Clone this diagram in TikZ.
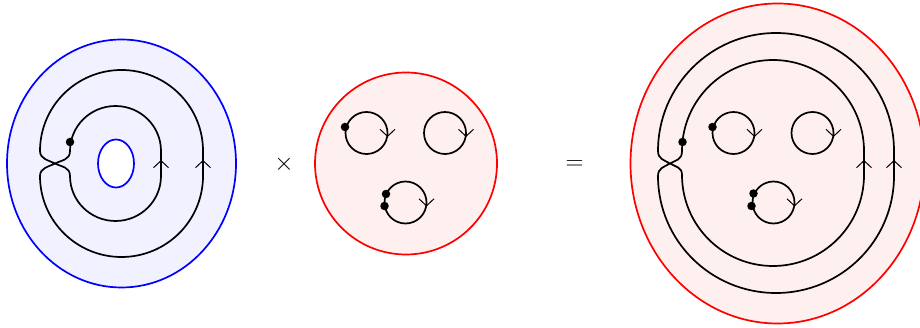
\documentclass[tikz,border=0pt]{standalone}
\usepackage{amsmath,amssymb}
\usepackage{xcolor}
\usetikzlibrary{arrows.meta}
\definecolor{softblue}{RGB}{241,241,255}
\definecolor{softred}{RGB}{254,240,238}
\tikzset{
  strand/.style={black,line width=1.7pt},
  rim/.style={line width=1.7pt},
  barb/.style={-{Straight Barb[length=7pt,width=15pt,line width=1pt]},black,line width=1.7pt},
  dot/.style={circle,fill=black,inner sep=0pt,minimum size=8.5pt},
  sign/.style={font=\fontsize{28}{32}\selectfont}
}
\begin{document}
\begin{tikzpicture}[x=1pt,y=-1pt]
\useasboundingbox (0,0) rectangle (920,328);
\clip (0,0) rectangle (920,328);
% left disc
\draw[rim,blue,fill=softblue] (121.5,163.5) ellipse [x radius=114.5,y radius=124];
\draw[rim,blue,fill=white] (116,163.5) ellipse [x radius=18,y radius=24];
\draw[strand] (40,151) arc [start angle=180,end angle=360,x radius=81.5,y radius=81]
  -- (203,176) arc [start angle=0,end angle=180,x radius=81.5,y radius=81]
  .. controls (40,168) and (48,167) .. (55,163.5)
  .. controls (62,160) and (70,160) .. (70,151)
  arc [start angle=180,end angle=360,x radius=45.5,y radius=45]
  -- (161,176) arc [start angle=0,end angle=180,x radius=45.5,y radius=45]
  .. controls (70,167) and (62,167) .. (55,163.5)
  .. controls (48,160) and (40,159) .. (40,151);
\draw[barb] (161,165) -- (161,160);
\draw[barb] (203,165) -- (203,160);
\node[dot] (d1) at (70,142) {};
% times
\node[sign] (times) at (284,164.5) {$\times$};
% middle disc
\draw[rim,red,fill=softred] (406,163.5) circle (91);
\foreach \cx/\cy in {366.5/133,445/133,405.5/202.5}{
  \draw[strand] (\cx,\cy) circle (21);
  \draw[barb] (\cx+21,\cy-1) -- (\cx+21,\cy+4);
}
\node[dot] (d2) at (345,127) {};
\node[dot] (d3) at (386,194) {};
\node[dot] (d4) at (384.5,206) {};
% equals
\node[sign] (equals) at (574.5,165) {$=$};
% right disc
\draw[rim,red,fill=softred] (777.5,163.5) ellipse [x radius=147,y radius=160];
\draw[strand] (658,151) arc [start angle=180,end angle=360,x radius=118,y radius=118]
  -- (894,176) arc [start angle=0,end angle=180,x radius=118,y radius=117]
  .. controls (658,168) and (664,167) .. (670,163.5)
  .. controls (676,160) and (682,160) .. (682,151)
  arc [start angle=180,end angle=360,x radius=91,y radius=91]
  -- (864,175) arc [start angle=0,end angle=180,x radius=91,y radius=91]
  .. controls (682,167) and (676,167) .. (670,163.5)
  .. controls (664,160) and (658,159) .. (658,151);
\draw[barb] (864,165) -- (864,160);
\draw[barb] (894,165) -- (894,160);
\foreach \cx/\cy in {733.5/133,812.5/133,773.5/202.5}{
  \draw[strand] (\cx,\cy) circle (21);
  \draw[barb] (\cx+21,\cy-1) -- (\cx+21,\cy+4);
}
\node[dot] (d5) at (682.5,142) {};
\node[dot] (d6) at (712.5,127) {};
\node[dot] (d7) at (753.5,193.5) {};
\node[dot] (d8) at (751.5,206) {};
\end{tikzpicture}
\end{document}
